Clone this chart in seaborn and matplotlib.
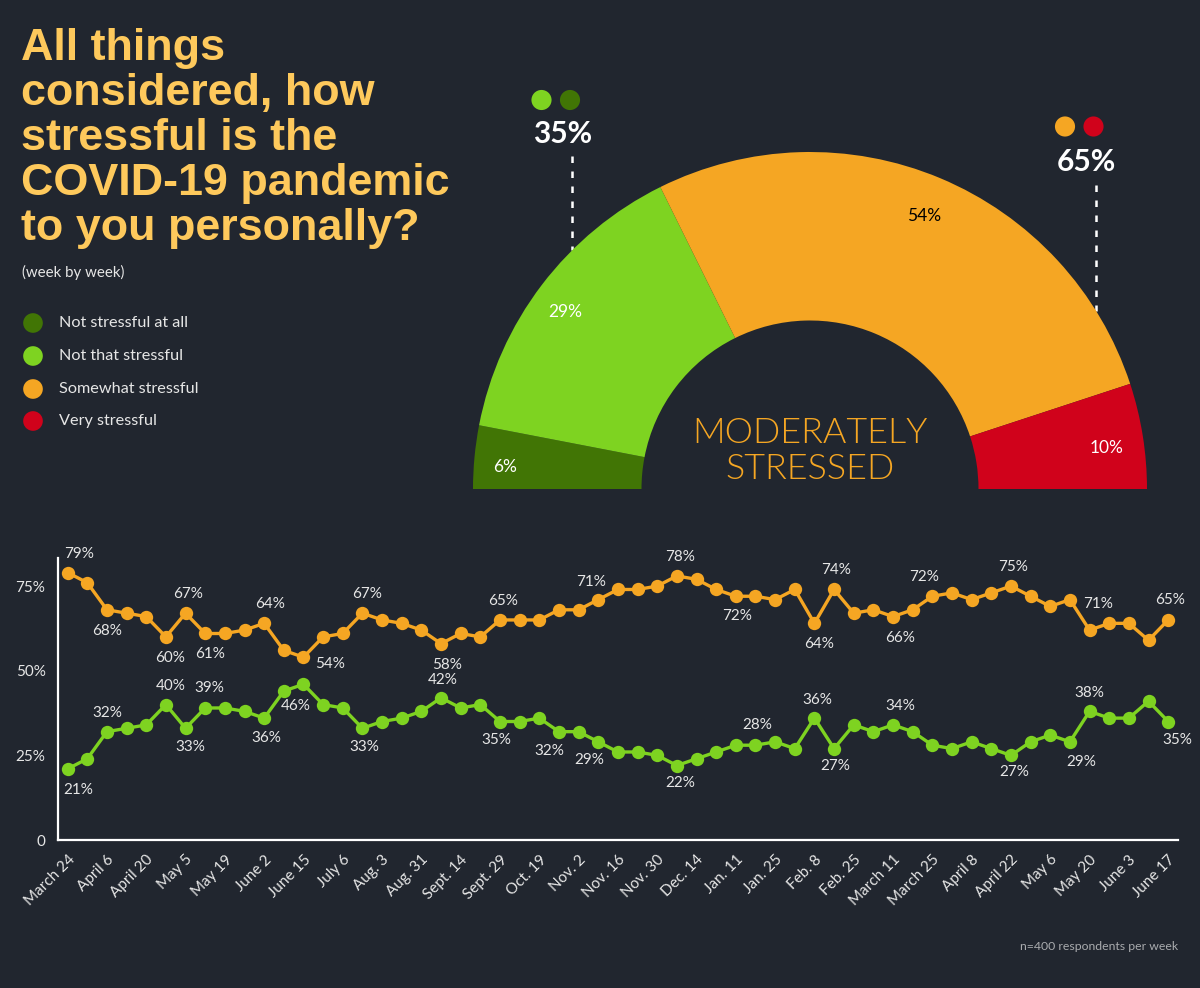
import numpy as np
import pandas as pd
import matplotlib
matplotlib.use("Agg")
import matplotlib.pyplot as plt
import seaborn as sns

# ---------------- data ----------------
title_lines = ["All things", "considered, how", "stressful is the",
               "COVID-19 pandemic", "to you personally?"]
subtitle = "(week by week)"

gauge_categories = ["Not stressful at all", "Not that stressful",
                    "Somewhat stressful", "Very stressful"]
gauge_values = [6, 29, 54, 10]
group_totals = ["35%", "65%"]
center_text = "MODERATELY\nSTRESSED"

week_tick_labels = ["March 24", "April 6", "April 20", "May 5", "May 19", "June 2",
                    "June 15", "July 6", "Aug. 3", "Aug. 31", "Sept. 14", "Sept. 29",
                    "Oct. 19", "Nov. 2", "Nov. 16", "Nov. 30", "Dec. 14", "Jan. 11",
                    "Jan. 25", "Feb. 8", "Feb. 25", "March 11", "March 25", "April 8",
                    "April 22", "May 6", "May 20", "June 3", "June 17"]

stressed = [79, 76, 68, 67, 66, 60, 67, 61, 61, 62, 64, 56, 54, 60, 61, 67, 65, 64, 62,
            58, 61, 60, 65, 65, 65, 68, 68, 71, 74, 74, 75, 78, 77, 74, 72, 72, 71, 74,
            64, 74, 67, 68, 66, 68, 72, 73, 71, 73, 75, 72, 69, 71, 62, 64, 64, 59, 65]
not_stressed = [21, 24, 32, 33, 34, 40, 33, 39, 39, 38, 36, 44, 46, 40, 39, 33, 35, 36, 38,
                42, 39, 40, 35, 35, 36, 32, 32, 29, 26, 26, 25, 22, 24, 26, 28, 28, 29, 27,
                36, 27, 34, 32, 34, 32, 28, 27, 29, 27, 25, 29, 31, 29, 38, 36, 36, 41, 35]

stressed_label_idx = [0, 2, 5, 6, 7, 10, 12, 15, 19, 22, 27, 31, 34, 38, 39, 42, 44, 48, 51, 56]
stressed_label_txt = ["79%", "68%", "60%", "67%", "61%", "64%", "54%", "67%", "58%", "65%",
                      "71%", "78%", "72%", "64%", "74%", "66%", "72%", "75%", "71%", "65%"]
not_label_idx = [0, 2, 5, 6, 7, 10, 12, 15, 19, 22, 25, 27, 31, 35, 38, 39, 42, 48, 51, 52, 56]
not_label_txt = ["21%", "32%", "40%", "33%", "39%", "36%", "46%", "33%", "42%", "35%", "32%",
                 "29%", "22%", "28%", "36%", "27%", "34%", "27%", "29%", "38%", "35%"]
footnote = "n=400 respondents per week"

# ---------------- style ----------------
BG = "#21262f"
TITLE_C = "#fec95c"
TXT = "#e6e6e6"
C_DKGREEN = "#417505"
C_GREEN = "#7ed321"
C_ORANGE = "#f5a623"
C_RED = "#d0021b"
gauge_colors = [C_DKGREEN, C_GREEN, C_ORANGE, C_RED]
gauge_text_colors = ["white", "white", "black", "white"]

# label offsets in pixels (dx, dy; dy positive = downward)
stressed_off = [(11, -19), (0, 21), (4, 21), (3, -19), (5, 21), (6, -19), (27, 7), (5, -19),
                (6, 21), (3, -19), (-7, -18), (3, -19), (1, 20), (5, 21), (2, -19), (7, 21),
                (-8, -19), (2, -19), (28, 4), (2, -20)]
not_off = [(11, 21), (0, -19), (5, -19), (5, 19), (4, -20), (2, 20), (-8, 22), (2, 19),
           (2, -18), (-4, 18), (-10, 19), (-9, 18), (3, 17), (2, -20), (3, -18), (1, 17),
           (7, -19), (3, 17), (11, 20), (0, -18), (9, 18)]

sns.set_style("ticks")
plt.rcParams["font.family"] = ["Lato", "DejaVu Sans"]
plt.rcParams["axes.facecolor"] = "none"

W, H = 1200, 988
fig = plt.figure(figsize=(W / 100, H / 100), dpi=100, facecolor=BG)


def px_rect(x0, y0, x1, y1):
    return [x0 / W, 1 - y1 / H, (x1 - x0) / W, (y1 - y0) / H]


# overlay in pixel coordinates
ov = fig.add_axes([0, 0, 1, 1])
ov.set_xlim(0, W)
ov.set_ylim(H, 0)
ov.axis("off")

for i, line in enumerate(title_lines):
    ov.text(21, 60 + 45 * i, line, va="baseline", ha="left", fontsize=32.3,
            fontweight="bold", color=TITLE_C, family=["Liberation Sans", "DejaVu Sans"])
ov.text(22, 272, subtitle, va="center", ha="left", fontsize=10.8, color=TXT)

leg_y = [323, 356, 389, 421]
ov.scatter([33] * 4, leg_y, s=200, c=gauge_colors, linewidths=0)
for y, lab in zip(leg_y, gauge_categories):
    ov.text(59, y, lab, va="center", ha="left", fontsize=11.7, color=TXT)

# gauge top group indicators
ov.scatter([541.5, 570], [100, 100], s=210, c=[C_GREEN, C_DKGREEN], linewidths=0)
ov.scatter([1065, 1093.5], [126.5, 126.5], s=210, c=[C_ORANGE, C_RED], linewidths=0)
ov.text(563, 134, group_totals[0], ha="center", va="center", fontsize=21.5,
        fontweight="bold", color="white")
ov.text(1086.5, 162, group_totals[1], ha="center", va="center", fontsize=21.5,
        fontweight="bold", color="white")
ov.plot([572, 572], [156, 250], color="white", lw=1.8, ls=(0, (2.6, 3.4)))
ov.plot([1096, 1096], [185, 311], color="white", lw=1.8, ls=(0, (2.6, 3.4)))

ov.text(1178, 946, footnote, ha="right", va="center", fontsize=8.8, color="#a9abae")

# ---------------- gauge ----------------
CX, CY, R = 810, 489, 337
ga = fig.add_axes(px_rect(440, 60, 1180, 489))
wedges, _ = ga.pie(gauge_values + [sum(gauge_values)], colors=gauge_colors + ["none"],
                   startangle=180, counterclock=False, radius=1,
                   wedgeprops=dict(width=0.5, linewidth=0))
wedges[-1].set_visible(False)
ga.set_aspect("auto")
ga.set_xlim((440 - CX) / R, (1180 - CX) / R)
ga.set_ylim(0, (CY - 60) / R)
ga.axis("off")
for w, v, tc in zip(wedges[:4], gauge_values, gauge_text_colors):
    th = np.deg2rad((w.theta1 + w.theta2) / 2)
    ga.text(0.9 * np.cos(th) - 0.01, 0.9 * np.sin(th) - 0.02, f"{v}%", ha="center",
            va="center", fontsize=12.5, color=tc)
ga.text(0, (CY - 451) / R, center_text, ha="center", va="center", fontsize=25.8,
        fontweight=300, color=C_ORANGE, linespacing=1.12)

# ---------------- line chart ----------------
n = len(stressed)
df = pd.DataFrame({"week": np.arange(n), "stressed": stressed, "not_stressed": not_stressed})
ax = fig.add_axes(px_rect(58, 558, 1178, 840))
sns.lineplot(data=df, x="week", y="stressed", ax=ax, color=C_ORANGE, lw=2.4,
             marker="o", markersize=9.6, markeredgewidth=0)
sns.lineplot(data=df, x="week", y="not_stressed", ax=ax, color=C_GREEN, lw=2.4,
             marker="o", markersize=9.6, markeredgewidth=0)
ax.set_xlim(-0.49, n - 1 + 0.5)
ax.set_ylim(0, 83.3)
ax.set_xlabel("")
ax.set_ylabel("")
for s in ["top", "right"]:
    ax.spines[s].set_visible(False)
for s in ["left", "bottom"]:
    ax.spines[s].set_color("white")
    ax.spines[s].set_linewidth(1.6)
ax.set_yticks([0, 25, 50, 75])
ax.set_yticklabels(["0", "25%", "50%", "75%"])
ax.set_xticks(np.arange(0, n, 2))
ax.set_xticklabels(week_tick_labels, rotation=45, ha="right", rotation_mode="anchor")
ax.tick_params(axis="both", length=0, colors=TXT, labelsize=11)
ax.tick_params(axis="y", pad=9)
ax.tick_params(axis="x", pad=9)

for idx, txt, (dx, dy) in zip(stressed_label_idx, stressed_label_txt, stressed_off):
    ax.annotate(txt, (idx, stressed[idx]), xytext=(dx * 0.72, -dy * 0.72),
                textcoords="offset points", ha="center", va="center",
                fontsize=11, color=TXT)
for idx, txt, (dx, dy) in zip(not_label_idx, not_label_txt, not_off):
    ax.annotate(txt, (idx, not_stressed[idx]), xytext=(dx * 0.72, -dy * 0.72),
                textcoords="offset points", ha="center", va="center",
                fontsize=11, color=TXT)

fig.savefig("out.png", dpi=100, facecolor=BG)
